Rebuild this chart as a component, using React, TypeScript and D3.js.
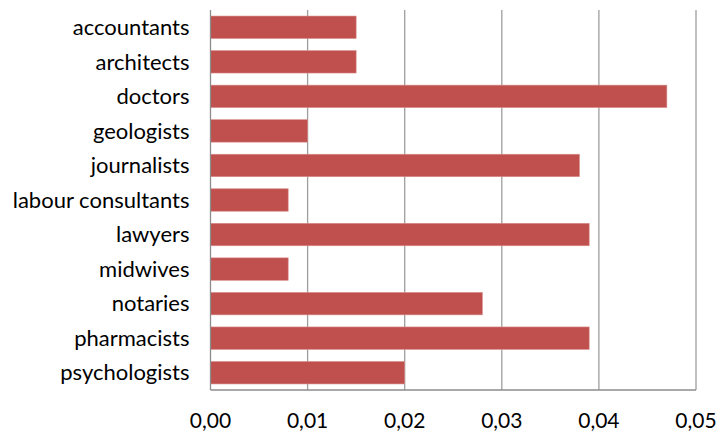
import React from "react";
import * as d3 from "d3";

const categories: string[] = [
  "accountants",
  "architects",
  "doctors",
  "geologists",
  "journalists",
  "labour consultants",
  "lawyers",
  "midwives",
  "notaries",
  "pharmacists",
  "psychologists",
];

const values: number[] = [
  0.015, 0.015, 0.047, 0.01, 0.038, 0.008, 0.039, 0.008, 0.028, 0.039, 0.02,
];

const xTicks: number[] = [0, 0.01, 0.02, 0.03, 0.04, 0.05];

const WIDTH = 718;
const HEIGHT = 435;
const margin = { top: 10, right: 22, bottom: 45, left: 210.5 };
const FONT = "Lato, 'Open Sans', sans-serif";

export default function App() {
  const innerW = WIDTH - margin.left - margin.right;
  const innerH = HEIGHT - margin.top - margin.bottom;

  const x = d3.scaleLinear().domain([0, 0.05]).range([0, innerW]);
  const y = d3
    .scaleBand<string>()
    .domain(categories)
    .range([0, innerH])
    .paddingInner(0.35)
    .paddingOuter(0.175);

  const fmt = (v: number) => d3.format(".2f")(v).replace(".", ",");

  return (
    <svg
      width={WIDTH}
      height={HEIGHT}
      style={{ position: "absolute", left: 0, top: 0, background: "#fff" }}
    >
      <g transform={`translate(${margin.left},${margin.top})`}>
        {xTicks.slice(1).map((t) => (
          <line
            key={t}
            x1={x(t)}
            x2={x(t)}
            y1={0}
            y2={innerH}
            stroke="#9e9e9e"
            strokeWidth={1.3}
          />
        ))}
        {categories.map((c, i) => (
          <rect
            key={c}
            x={0}
            y={y(c)}
            width={x(values[i])}
            height={y.bandwidth()}
            fill="#c0504d"
            stroke="#d98f8d"
            strokeWidth={0.6}
          />
        ))}
        <line x1={0} x2={0} y1={0} y2={innerH} stroke="#8c8c8c" strokeWidth={1.3} />
        <line x1={0} x2={innerW} y1={innerH} y2={innerH} stroke="#8c8c8c" strokeWidth={1.3} />
        {categories.map((c) => (
          <text
            key={c}
            x={-21}
            y={(y(c) ?? 0) + y.bandwidth() / 2}
            dy="0.35em"
            textAnchor="end"
            fontFamily={FONT}
            fontSize={22}
            fill="#000"
          >
            {c}
          </text>
        ))}
        {xTicks.map((t) => (
          <text
            key={t}
            x={x(t)}
            y={innerH + 31}
            dy="0.35em"
            textAnchor="middle"
            fontFamily={FONT}
            fontSize={21}
            fill="#000"
          >
            {fmt(t)}
          </text>
        ))}
      </g>
    </svg>
  );
}
